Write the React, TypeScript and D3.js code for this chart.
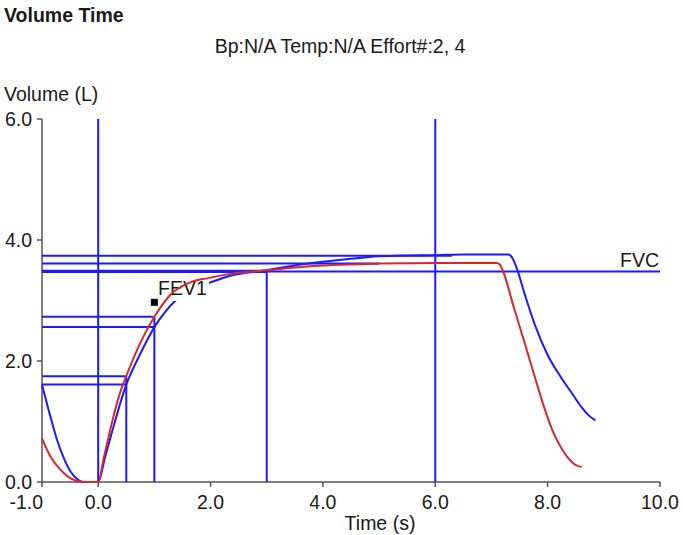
import React from "react";
import * as d3 from "d3";

const TITLE = "Volume Time";
const SUBTITLE = "Bp:N/A Temp:N/A Effort#:2, 4";
const Y_LABEL = "Volume (L)";
const X_LABEL = "Time (s)";

const xTicks = [-1, 0, 2, 4, 6, 8, 10];
const yTicks = [0, 2, 4, 6];

// Effort curve (blue): [time s, volume L]
const blueCurve: [number, number][] = [
  [-1.0, 1.61], [-0.85, 1.08], [-0.73, 0.69], [-0.61, 0.39], [-0.49, 0.17], [-0.37, 0.045], [-0.26, 0.0],
  [0.0, 0.0], [0.12, 0.4], [0.25, 0.84], [0.5, 1.61], [0.75, 2.12], [1.0, 2.56], [1.2, 2.82], [1.38, 3.0],
  [1.65, 3.17], [2.0, 3.3], [2.35, 3.41], [3.0, 3.5], [3.5, 3.58], [4.0, 3.64], [4.5, 3.69], [5.0, 3.73],
  [5.5, 3.745], [6.0, 3.75], [6.5, 3.76], [7.0, 3.76], [7.3, 3.76], [7.36, 3.72], [7.44, 3.56], [7.6, 3.08],
  [7.78, 2.58], [8.0, 2.1], [8.23, 1.74], [8.46, 1.43], [8.6, 1.24], [8.72, 1.11], [8.85, 1.02],
];

// Effort curve (red): [time s, volume L]
const redCurve: [number, number][] = [
  [-1.0, 0.72], [-0.85, 0.42], [-0.67, 0.2], [-0.49, 0.06], [-0.31, 0.005], [0.0, 0.0],
  [0.1, 0.4], [0.25, 1.0], [0.37, 1.42], [0.5, 1.75], [0.75, 2.3], [1.0, 2.73], [1.29, 3.1],
  [1.64, 3.3], [1.95, 3.37], [2.35, 3.44], [3.0, 3.5], [3.83, 3.57], [5.0, 3.61], [6.0, 3.62],
  [7.1, 3.62], [7.16, 3.58], [7.2, 3.5], [7.4, 2.88], [7.6, 2.27], [7.8, 1.65], [7.95, 1.2],
  [8.1, 0.82], [8.25, 0.55], [8.4, 0.36], [8.52, 0.27], [8.61, 0.25],
];

// Reference horizontal lines: [volume, end time]
const hLines: [number, number][] = [
  [3.74, 6.3], [3.61, 5.0], [3.49, 3.0], [3.47, 3.0],
  [2.73, 0.98], [2.56, 1.0], [1.75, 0.5], [1.61, 0.5],
];
const fvcLevel = 3.48;
// Reference vertical lines: [time, top volume]
const vLines: [number, number][] = [
  [0, 6], [0.5, 1.75], [1.0, 2.73], [3.0, 3.49], [6.0, 6],
];
const fev1Marker: [number, number] = [1.0, 2.97];

const W = 683;
const H = 535;
const FONT = "'Liberation Sans', Arial, sans-serif";
const BLUE = "#1a1aff";
const RED = "#d42a2a";
const TEXT = "#1a1a1a";

export default function App() {
  const x = d3.scaleLinear().domain([-1, 10]).range([42, 660]);
  const y = d3.scaleLinear().domain([0, 6]).range([482, 119]);
  const line = d3
    .line<[number, number]>()
    .x((d) => x(d[0]))
    .y((d) => y(d[1]))
    .curve(d3.curveMonotoneX);
  const fmt = (v: number) => v.toFixed(1);

  return (
    <svg
      width={W}
      height={H}
      style={{ position: "absolute", left: 0, top: 0, background: "#fff" }}
      fontFamily={FONT}
    >
      <rect x={0} y={0} width={W} height={H} fill="#fff" />
      <text x={4} y={22} fontSize={19.5} fontWeight="bold" fill={TEXT}>
        {TITLE}
      </text>
      <text x={340} y={53} fontSize={19.5} textAnchor="middle" fill={TEXT}>
        {SUBTITLE}
      </text>
      <text x={4} y={101} fontSize={19.5} fill={TEXT}>
        {Y_LABEL}
      </text>

      {/* axes */}
      <line x1={x(-1)} x2={x(-1)} y1={y(6)} y2={y(0)} stroke="#555" strokeWidth={1.5} />
      <line x1={x(-1)} x2={x(10)} y1={y(0)} y2={y(0)} stroke="#555" strokeWidth={1.5} />
      {yTicks.map((t) => (
        <g key={"y" + t}>
          <line x1={x(-1) - 5} x2={x(-1)} y1={y(t)} y2={y(t)} stroke="#555" strokeWidth={1.5} />
          <text x={32} y={y(t) + 7} fontSize={19.5} textAnchor="end" fill={TEXT}>
            {fmt(t)}
          </text>
        </g>
      ))}
      {xTicks.map((t, i) => (
        <g key={"x" + t}>
          <line x1={x(t)} x2={x(t)} y1={y(0)} y2={y(0) + 5} stroke="#555" strokeWidth={1.5} />
          <text
            x={i === 0 ? x(t) + 1 : x(t)}
            y={509}
            fontSize={19.5}
            textAnchor={i === 0 ? "end" : "middle"}
            fill={TEXT}
          >
            {fmt(t)}
          </text>
        </g>
      ))}
      <text x={380} y={530} fontSize={19.5} textAnchor="middle" fill={TEXT}>
        {X_LABEL}
      </text>

      {/* reference lines */}
      {hLines.map(([v, t], i) => (
        <line key={"h" + i} x1={x(-1)} x2={x(t)} y1={y(v)} y2={y(v)} stroke={BLUE} strokeWidth={2} />
      ))}
      <line x1={x(-1)} x2={x(10)} y1={y(fvcLevel)} y2={y(fvcLevel)} stroke={BLUE} strokeWidth={2} />
      {vLines.map(([t, v], i) => (
        <line key={"v" + i} x1={x(t)} x2={x(t)} y1={y(0)} y2={y(v)} stroke={BLUE} strokeWidth={2} />
      ))}

      <path d={line(blueCurve) || ""} fill="none" stroke={BLUE} strokeWidth={2} />

      {/* labels with light backgrounds */}
      <rect x={156} y={278} width={53} height={23} fill="#fff" />
      <text x={158} y={295} fontSize={19.5} fill={TEXT}>
        FEV1
      </text>
      <rect x={618} y={249} width={45} height={21} fill="#fff" opacity={0.6} />
      <text x={620} y={267} fontSize={19.5} fill={TEXT}>
        FVC
      </text>

      <path d={line(redCurve) || ""} fill="none" stroke={RED} strokeWidth={2} />

      <rect
        x={x(fev1Marker[0]) - 3.5}
        y={y(fev1Marker[1]) - 3.5}
        width={7}
        height={7}
        fill="#000"
      />
    </svg>
  );
}
